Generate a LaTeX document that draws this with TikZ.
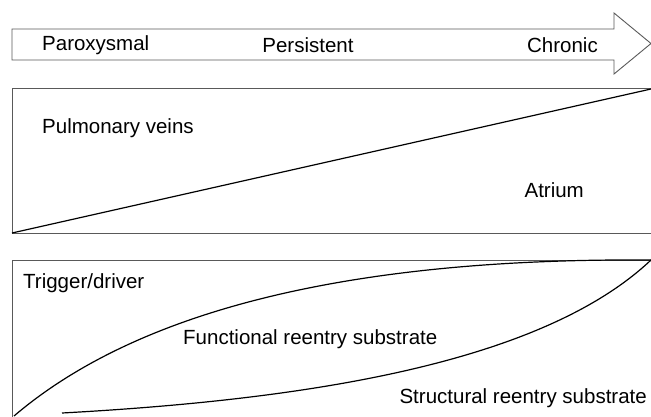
\documentclass[tikz,border=0pt]{standalone}
\usepackage{fontspec}
\setmainfont{Liberation Sans}
\begin{document}
\begin{tikzpicture}[x=1pt,y=-1pt]
\tikzstyle{label} = [inner sep=0pt, font=\fontsize{20.5}{22}\selectfont]
\tikzstyle{frame} = [draw=black!65, line width=0.9pt]
\tikzstyle{curve} = [draw=black, line width=1.2pt]

\useasboundingbox (0,0) rectangle (651,416);
\clip (0,0) rectangle (651,416);

% stage arrow
\draw [frame] (12,29) -- (614,29) -- (614,13) -- (651,43.5)
              -- (614,74) -- (614,60) -- (12,60) -- cycle;
\node (P) [label, anchor=west] at (42,45) {Paroxysmal};
\node (S) [label] at (308,45) {Persistent};
\node (C) [label, anchor=east] at (598,45) {Chronic};

% pulmonary veins vs atrium
\draw [frame] (655,88) -- (12,88) -- (12,233) -- (655,233);
\draw [curve] (12,233) -- (651,89);
\node (PV) [label, anchor=west] at (42,128) {Pulmonary veins};
\node (A) [label, anchor=east] at (584,190) {Atrium};

% substrate
\draw [frame] (655,260) -- (12,260) -- (12,420);
\draw [curve] (14,416) .. controls (150,300) and (380,258) .. (651,260);
\draw [curve] (62,413) .. controls (300,400) and (540,365) .. (651,260);
\node (T) [label, anchor=west] at (23,283) {Trigger/driver};
\node (F) [label, anchor=west] at (183,339) {Functional reentry substrate};
\node (R) [label, anchor=east] at (647,398) {Structural reentry substrate};
\end{tikzpicture}
\end{document}
